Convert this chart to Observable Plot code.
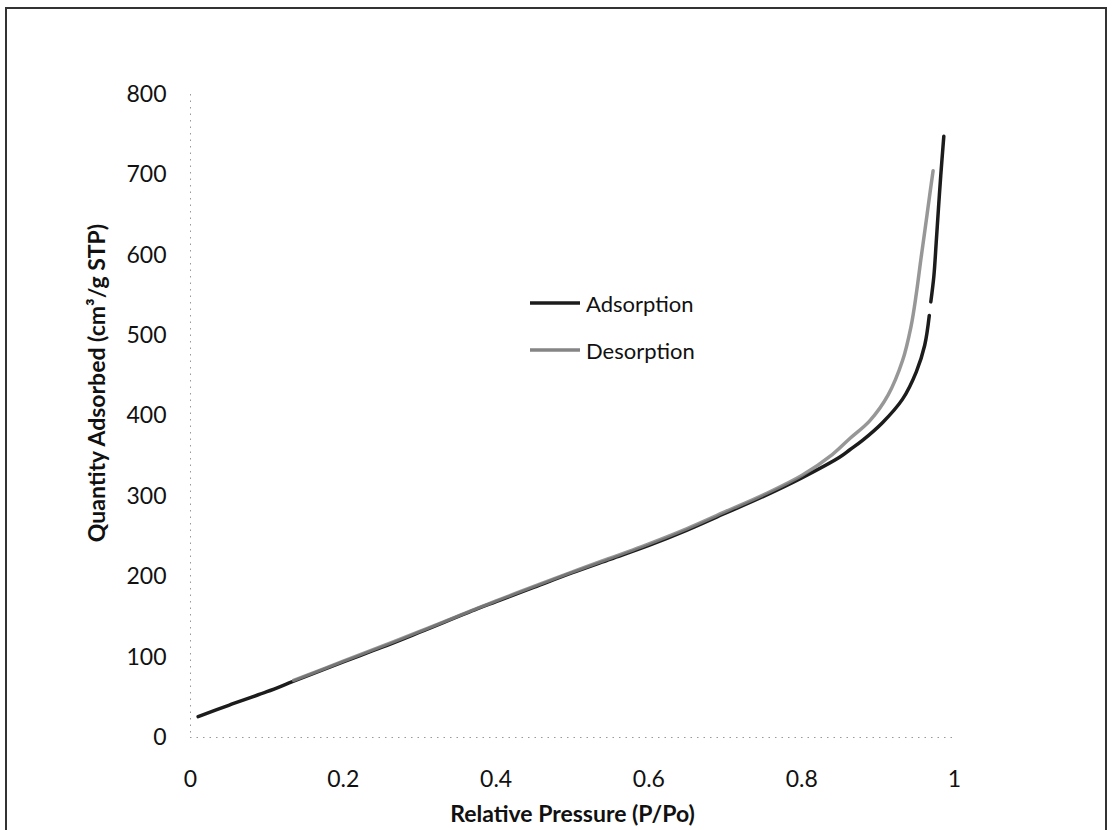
<!DOCTYPE html>
<html>
<head>
<meta charset="utf-8">
<script src="https://cdn.jsdelivr.net/npm/d3@7"></script>
<script src="https://cdn.jsdelivr.net/npm/@observablehq/plot@0.6"></script>
<style>
  html, body { margin: 0; padding: 0; background: #fff; }
  #wrap { position: relative; width: 1112px; height: 830px; overflow: hidden; font-family: Lato, "Open Sans", sans-serif; }
  #border { position: absolute; left: 5px; top: 7px; width: 1102px; height: 840px; border: 2px solid #333; box-sizing: border-box; }
  #chart { position: absolute; left: 0; top: 0; }
  .legend-row { position: absolute; display: flex; align-items: center; font-size: 22px; color: #111; }
  .legend-row svg { margin-right: 6px; }
</style>
</head>
<body>
<div id="wrap">
  <div id="border"></div>
  <div id="chart"></div>
</div>
<script>
// N2 isotherm: relative pressure vs. quantity adsorbed
const adsPressure = [0.01, 0.05, 0.10, 0.135, 0.20, 0.25, 0.30, 0.375, 0.40, 0.45, 0.50, 0.55, 0.60, 0.65, 0.70, 0.75, 0.80, 0.85, 0.863, 0.88, 0.906, 0.932, 0.950, 0.961, 0.967, 0.968, 0.969, 0.973, 0.976, 0.979, 0.982, 0.986];
const adsQuantity = [26, 40, 57, 70, 94, 112, 131, 160, 169, 187, 205, 222, 239, 258, 279, 300, 323, 349, 358, 370, 392, 421, 455, 488, 525, null, 542, 574, 615, 658, 699, 748];

const desPressure = [0.972, 0.968, 0.962, 0.956, 0.950, 0.943, 0.932, 0.913, 0.889, 0.863, 0.84, 0.80, 0.75, 0.70, 0.65, 0.60, 0.50, 0.40, 0.30, 0.20, 0.135];
const desQuantity = [705, 678, 636, 595, 552, 511, 469, 426, 394, 372, 352, 326, 302, 281, 260, 241, 206, 170, 132, 95, 71];

const seriesNames = ["Adsorption", "Desorption"];
const seriesColors = ["#1c1c1c", "#858585"];

const xTicks = [0, 0.2, 0.4, 0.6, 0.8, 1];
const yTicks = [0, 100, 200, 300, 400, 500, 600, 700, 800];
const xTitle = "Relative Pressure (P/Po)";
const yTitle = "Quantity Adsorbed (cm\u00B3/g STP)";

const adsorption = adsPressure.map((p, i) => ({p, q: adsQuantity[i]}));
const desorption = desPressure.map((p, i) => ({p, q: desQuantity[i]}));

const chart = Plot.plot({
  width: 1112,
  height: 830,
  marginLeft: 190,
  marginRight: 158,
  marginTop: 94,
  marginBottom: 93,
  style: {fontFamily: "Lato, 'Open Sans', sans-serif", fontSize: "23px", color: "#111", background: "transparent"},
  x: {domain: [0, 1]},
  y: {domain: [0, 800]},
  marks: [
    Plot.ruleX([0], {stroke: "#999", strokeDasharray: "1.5,5"}),
    Plot.ruleY([0], {stroke: "#999", strokeDasharray: "1.5,5"}),
    Plot.axisX({ticks: xTicks, tickSize: 0, tickPadding: 33, tickFormat: d => String(d), label: null}),
    Plot.axisY({ticks: yTicks, tickSize: 0, tickPadding: 24, tickFormat: d => String(d), label: null}),
    Plot.line(adsorption, {x: "p", y: "q", stroke: seriesColors[0], strokeWidth: 3.5, curve: "catmull-rom"}),
    Plot.line(desorption, {x: "p", y: "q", stroke: seriesColors[1], strokeWidth: 3.5, strokeOpacity: 0.85, curve: "catmull-rom"}),
    Plot.text([xTitle], {frameAnchor: "bottom", dy: 84, fontWeight: "bold", fontSize: 23, fill: "#111"}),
    Plot.text([yTitle], {frameAnchor: "left", textAnchor: "middle", dx: -93, dy: -33, rotate: -90, fontWeight: "bold", fontSize: 23, fill: "#111"})
  ]
});
document.getElementById("chart").appendChild(chart);

// Legend placed inside the plotting area
const legendTops = [291, 338];
seriesNames.forEach((name, i) => {
  const row = document.createElement("div");
  row.className = "legend-row";
  row.style.left = "530px";
  row.style.top = legendTops[i] + "px";
  row.style.height = "24px";
  row.innerHTML = `<svg width="50" height="8"><line x1="0" x2="50" y1="4" y2="4" stroke="${seriesColors[i]}" stroke-width="3.5"/></svg><span>${name}</span>`;
  document.getElementById("wrap").appendChild(row);
});
</script>
</body>
</html>
